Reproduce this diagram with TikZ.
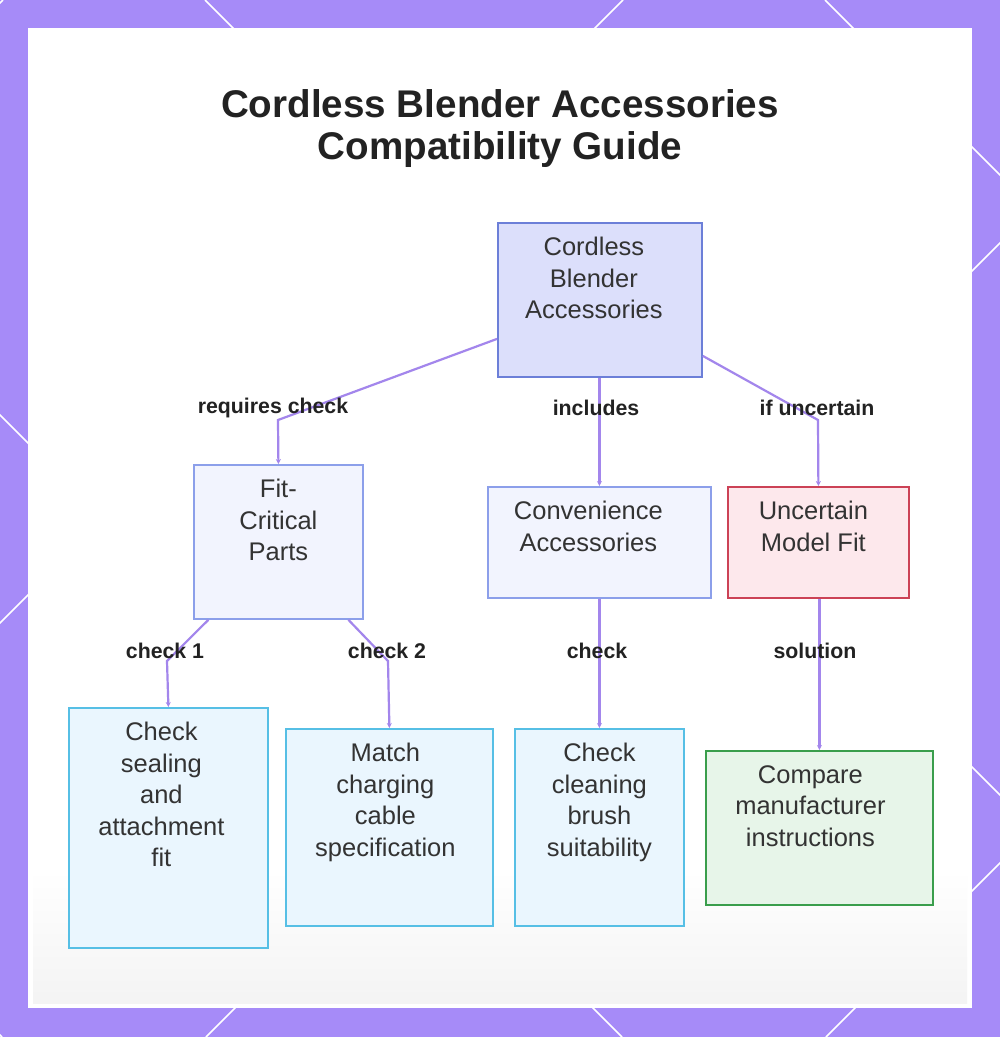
\documentclass[tikz,border=0pt]{standalone}
\usepackage{fontspec}
\setmainfont{Liberation Sans}
\usetikzlibrary{arrows.meta}
\definecolor{frame}{HTML}{A68BF8}
\definecolor{edgec}{HTML}{A386EC}
\definecolor{txt}{HTML}{333333}
\definecolor{ttl}{HTML}{222222}
\definecolor{rootf}{HTML}{DCDFFB}\definecolor{rootd}{HTML}{6C7FD8}
\definecolor{catf}{HTML}{F2F4FE}\definecolor{catd}{HTML}{8C9FEA}
\definecolor{uncf}{HTML}{FDE8EC}\definecolor{uncd}{HTML}{CC4256}
\definecolor{chkf}{HTML}{EAF6FE}\definecolor{chkd}{HTML}{56BFE5}
\definecolor{cmpf}{HTML}{E7F5E9}\definecolor{cmpd}{HTML}{3A9E4C}
\begin{document}
\begin{tikzpicture}[x=1pt,y=-1pt,
  boxstyle/.style={draw, line width=1.8pt, rectangle, inner sep=0pt, anchor=north west},
  intext/.style={anchor=north, align=center, inner sep=0pt, yshift=-15, text=txt,
     font=\fontsize{25.5}{31.5}\selectfont},
  edge/.style={draw=edgec, line width=2.2pt, -{Stealth[length=5pt,width=5pt]}},
  elabel/.style={font=\fontsize{21.3}{24}\selectfont\bfseries, text=ttl, inner sep=0pt}]
\useasboundingbox (0,0) rectangle (1000,1037);
\fill[frame] (0,0) rectangle (1000,1037);
\begin{scope}
\clip (0,0) rectangle (1000,1037);
\foreach \c in {-1035,-415,205,825} \draw[white, line width=1.5pt] (\c,0) -- ++(1037,1037);
\foreach \c in {3,623,1243,1863} \draw[white, line width=1.5pt] (\c,0) -- ++(-1037,1037);
\end{scope}
\fill[white] (28,28) rectangle (972,1008);
\shade[top color=white, bottom color=gray!9] (33,870) rectangle (967,1003);

\node[font=\fontsize{38.6}{42}\selectfont\bfseries, text=ttl, align=center] (title) at (500,129)
  {Cordless Blender Accessories\\Compatibility Guide};

\node[boxstyle, fill=rootf, draw=rootd, minimum width=204, minimum height=154,
  label={[intext, xshift=-6, name=rootT]north:{Cordless\\Blender\\Accessories}}] (root) at (497,222) {};
\node[boxstyle, fill=catf, draw=catd, minimum width=169, minimum height=154,
  label={[intext, name=fitT]north:{Fit-\\Critical\\Parts}}] (fit) at (193,464) {};
\node[boxstyle, fill=catf, draw=catd, minimum width=223, minimum height=111,
  label={[intext, xshift=-11, name=convT]north:{Convenience\\Accessories}}] (conv) at (487,486) {};
\node[boxstyle, fill=uncf, draw=uncd, minimum width=181, minimum height=111,
  label={[intext, xshift=-5, name=uncT]north:{Uncertain\\Model Fit}}] (unc) at (727,486) {};
\node[boxstyle, fill=chkf, draw=chkd, minimum width=199, minimum height=240,
  label={[intext, xshift=-7, name=sealT]north:{Check\\sealing\\and\\attachment\\fit}}] (seal) at (68,707) {};
\node[boxstyle, fill=chkf, draw=chkd, minimum width=207, minimum height=197,
  label={[intext, xshift=-4, name=matchT]north:{Match\\charging\\cable\\specification}}] (match) at (285,728) {};
\node[boxstyle, fill=chkf, draw=chkd, minimum width=169, minimum height=197,
  label={[intext, name=cleanT]north:{Check\\cleaning\\brush\\suitability}}] (clean) at (514,728) {};
\node[boxstyle, fill=cmpf, draw=cmpd, minimum width=227, minimum height=154,
  label={[intext, xshift=-9, name=cmpT]north:{Compare\\manufacturer\\instructions}}] (cmp) at (705,750) {};

\draw[edge] ([yshift=-39]root.west) -- (278,420) -- (fit.north);
\draw[edge] (root.south -| conv.north) -- (conv.north);
\draw[edge] ([yshift=-56]root.east) -- (818,420) -- (unc.north);
\draw[edge] ([xshift=-70]fit.south) -- (167,661) -- (seal.north);
\draw[edge] ([xshift=70]fit.south) -- (388,661) -- (match.north);
\draw[edge] (conv.south -| clean.north) -- (clean.north);
\draw[edge] (unc.south -| cmp.north) -- (cmp.north);

\node[elabel] (l1) at (273,408) {requires check};
\node[elabel] (l2) at (596,408) {includes};
\node[elabel] (l3) at (817,408) {if uncertain};
\node[elabel] (l4) at (165,651) {check 1};
\node[elabel] (l5) at (387,651) {check 2};
\node[elabel] (l6) at (597,651) {check};
\node[elabel] (l7) at (815,651) {solution};
\end{tikzpicture}
\end{document}
